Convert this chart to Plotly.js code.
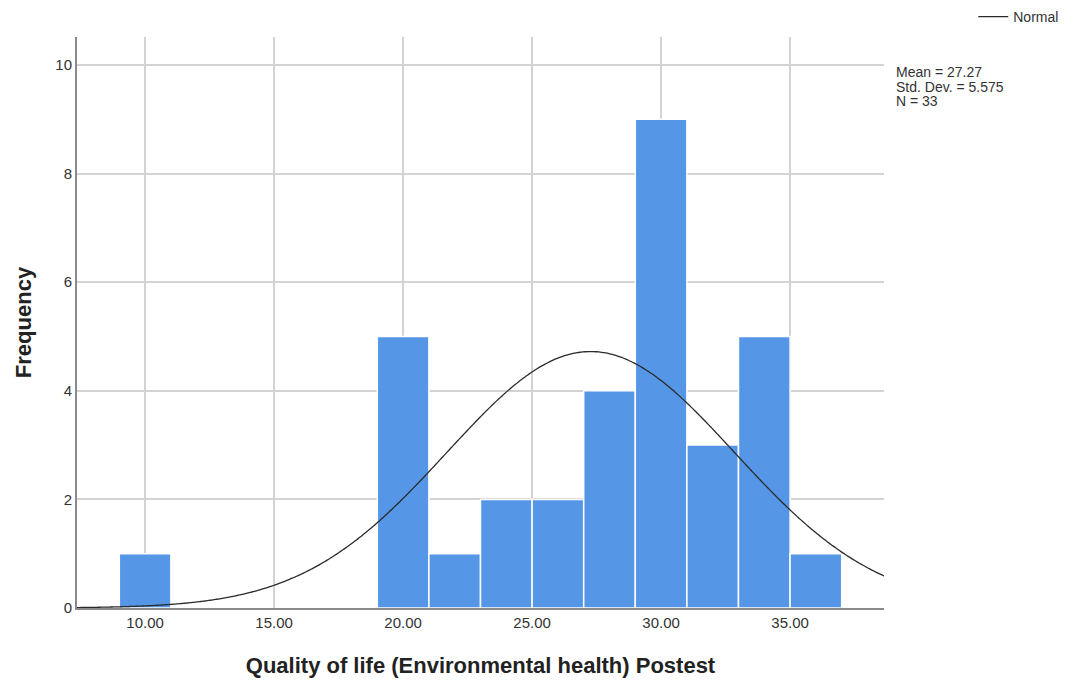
<!DOCTYPE html>
<html>
<head>
<meta charset="utf-8">
<script src="https://cdn.plot.ly/plotly-3.0.1.min.js"></script>
<style>
html,body{margin:0;padding:0;background:#fff;}
#chart{width:1065px;height:680px;}
</style>
</head>
<body>
<div id="chart"></div>
<script>
// Histogram bins (bin centres) and counts
var binCenters = [10, 20, 22, 24, 26, 28, 30, 32, 34, 36];
var frequencies = [1, 5, 1, 2, 2, 4, 9, 3, 5, 1];
var binWidth = 2;
// Summary statistics printed on the chart
var statMean = 27.27;
var statSD = 5.575;
var statN = 33;
var xTickVals = [10, 15, 20, 25, 30, 35];
var xTickText = ["10.00", "15.00", "20.00", "25.00", "30.00", "35.00"];
var yTickVals = [0, 2, 4, 6, 8, 10];
var statLines = ["Mean = 27.27", "Std. Dev. = 5.575", "N = 33"];

var xMin = 7.36, xMax = 38.64;

// Fitted normal curve defined by the printed mean, SD and N
var curveX = [], curveY = [];
var steps = 300;
for (var i = 0; i <= steps; i++) {
  var x = xMin + (xMax - xMin) * i / steps;
  var z = (x - statMean) / statSD;
  curveX.push(x);
  curveY.push(statN * binWidth / (statSD * Math.sqrt(2 * Math.PI)) * Math.exp(-0.5 * z * z));
}

var font = "Liberation Sans, Arial, sans-serif";

var traces = [
  {
    type: "bar",
    x: binCenters,
    y: frequencies,
    width: binWidth,
    marker: {color: "#5596E6", line: {color: "#ffffff", width: 1.5}},
    showlegend: false,
    hoverinfo: "x+y"
  },
  {
    type: "scatter",
    mode: "lines",
    x: curveX,
    y: curveY,
    name: "Normal",
    line: {color: "#2b2b2b", width: 1.3, shape: "spline"},
    showlegend: true
  }
];

var plotTop = 37, plotBottom = 608;
var plotH = plotBottom - plotTop;
var annotations = statLines.map(function (t, k) {
  var yc = 72 + k * 14.6;
  return {
    xref: "paper", yref: "paper",
    x: (894 - 77) / 807, y: (plotBottom - yc) / plotH,
    xanchor: "left", yanchor: "middle",
    align: "left",
    showarrow: false,
    text: t,
    font: {size: 14, color: "#333"}
  };
});

var layout = {
  width: 1065,
  height: 680,
  paper_bgcolor: "#ffffff",
  plot_bgcolor: "#ffffff",
  margin: {l: 77, r: 181, t: 37, b: 72, autoexpand: false},
  font: {family: font, color: "#222"},
  bargap: 0,
  xaxis: {
    range: [xMin, xMax],
    tickvals: xTickVals,
    ticktext: xTickText,
    tickfont: {size: 15, color: "#333"},
    showgrid: true,
    gridcolor: "#d3d3d3",
    gridwidth: 2,
    zeroline: false,
    showline: true,
    linecolor: "#8a8a8a",
    linewidth: 2,
    ticks: "",
    automargin: false,
    title: {text: "<b>Quality of life (Environmental health) Postest</b>", font: {size: 22, color: "#222"}, standoff: 28}
  },
  yaxis: {
    range: [0, 10.516],
    tickvals: yTickVals,
    tickfont: {size: 15, color: "#333"},
    showgrid: true,
    gridcolor: "#d3d3d3",
    gridwidth: 2,
    zeroline: false,
    showline: true,
    linecolor: "#8a8a8a",
    linewidth: 2,
    ticks: "",
    automargin: false,
    title: {text: "<b>Frequency</b>", font: {size: 22, color: "#222"}, standoff: 18}
  },
  legend: {
    x: 1.1106, y: 1.063, xanchor: "left", yanchor: "top",
    font: {size: 14, color: "#333"},
    bgcolor: "rgba(0,0,0,0)",
    itemwidth: 30
  },
  annotations: annotations
};

Plotly.newPlot("chart", traces, layout, {displayModeBar: false, staticPlot: true});
</script>
</body>
</html>
